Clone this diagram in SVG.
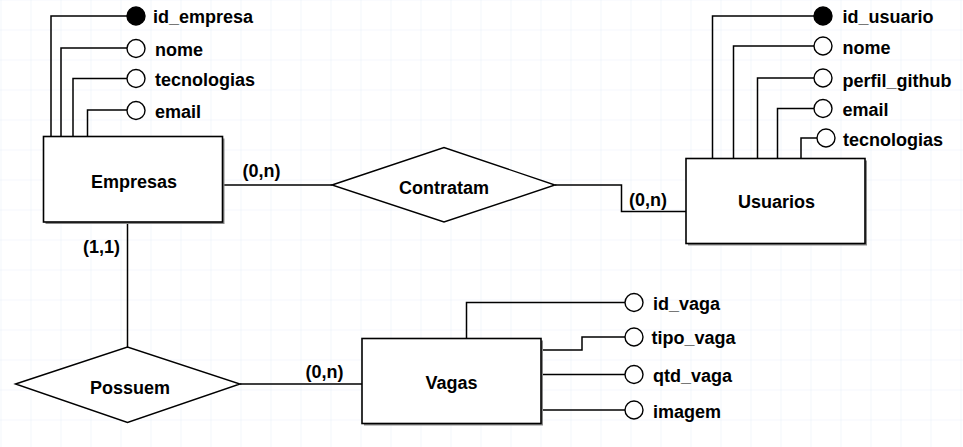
<svg xmlns="http://www.w3.org/2000/svg" width="963" height="447" viewBox="0 0 963 447">
<defs>
<pattern id="grid" x="0.5" y="-0.5" width="30" height="30" patternUnits="userSpaceOnUse">
<path d="M0 0 V30 M0 0 H30" fill="none" stroke="#e9f0f9" stroke-width="1.2"/>
</pattern>
</defs>
<style>
.ent{fill:#fff;stroke:#000;stroke-width:1.6}
.shd{fill:#8a8a8a}
.rel{fill:#fff;stroke:#000;stroke-width:1.4}
.ln{fill:none;stroke:#000;stroke-width:1.5}
.at{fill:#fff;stroke:#000;stroke-width:1.4}
.pk{fill:#000;stroke:#000;stroke-width:1.4}
text{font-family:"Liberation Sans",Arial,sans-serif;font-weight:bold;font-size:18px;fill:#000}
.c{text-anchor:middle}
</style>
<rect width="963" height="447" fill="#fff"/>
<rect width="963" height="447" fill="url(#grid)"/>

<g id="connectors">
<path class="ln" d="M51 137 V16 H128"/>
<path class="ln" d="M61 137 V48 H127"/>
<path class="ln" d="M73 137 V78.5 H127"/>
<path class="ln" d="M87.5 137 V110 H127"/>
<path class="ln" d="M712.5 158 V16 H814"/>
<path class="ln" d="M733.5 158 V46 H814"/>
<path class="ln" d="M757.5 158 V78 H814"/>
<path class="ln" d="M777.5 158 V108.5 H814"/>
<path class="ln" d="M801 158 V138 H817"/>
<path class="ln" d="M466.5 338 V302.5 H625"/>
<path class="ln" d="M541 350 H582 V337 H625"/>
<path class="ln" d="M541 374.5 H625"/>
<path class="ln" d="M541 410 H625"/>
<path class="ln" d="M223 185 H332"/>
<path class="ln" d="M555 185 H621.5 V211.5 H686"/>
<path class="ln" d="M127.5 222 V347"/>
<path class="ln" d="M240 384 H362"/>
</g>

<g id="empresas">
<rect class="shd" x="45.5" y="138.5" width="179" height="85.5"/>
<rect class="ent" x="43.5" y="136.5" width="179" height="85.5"/>
<text class="c" x="134" y="188">Empresas</text>
</g>
<g id="usuarios">
<rect class="shd" x="688" y="160.5" width="179" height="85"/>
<rect class="ent" x="686" y="158.5" width="179" height="85"/>
<text class="c" x="776.5" y="208">Usuarios</text>
</g>
<g id="vagas">
<rect class="shd" x="364" y="340.5" width="179" height="85"/>
<rect class="ent" x="362" y="338.5" width="179" height="85"/>
<text class="c" x="451.5" y="388.5">Vagas</text>
</g>

<g id="contratam">
<polygon class="rel" points="332,185 444,147.5 555,185 444,222"/>
<text class="c" x="444" y="193.5">Contratam</text>
</g>
<g id="possuem">
<polygon class="rel" points="15.5,384 127.5,347 240,384 127.5,422.5"/>
<text class="c" x="130" y="393.5">Possuem</text>
</g>

<g id="labels">
<text x="242.5" y="177">(0,n)</text>
<text x="629" y="206">(0,n)</text>
<text x="83" y="252.5">(1,1)</text>
<text x="305.5" y="377.5">(0,n)</text>
</g>

<g id="attr-empresas">
<circle class="pk" cx="136" cy="16" r="9"/><text x="153" y="23">id_empresa</text>
<circle class="at" cx="136" cy="48.5" r="9"/><text x="155" y="56">nome</text>
<circle class="at" cx="136" cy="78.5" r="9"/><text x="155" y="86">tecnologias</text>
<circle class="at" cx="136" cy="110.5" r="9"/><text x="155" y="118">email</text>
</g>
<g id="attr-usuarios">
<circle class="pk" cx="823" cy="16" r="9"/><text x="842.5" y="23">id_usuario</text>
<circle class="at" cx="823" cy="46" r="9"/><text x="842.5" y="53.5">nome</text>
<circle class="at" cx="823" cy="78" r="9"/><text x="842.5" y="86.5">perfil_github</text>
<circle class="at" cx="823" cy="108.5" r="9"/><text x="842.5" y="115.5">email</text>
<circle class="at" cx="826" cy="138" r="9"/><text x="843" y="145.5">tecnologias</text>
</g>
<g id="attr-vagas">
<circle class="at" cx="634" cy="302.5" r="9"/><text x="653" y="309.5">id_vaga</text>
<circle class="at" cx="634" cy="337" r="9"/><text x="651.5" y="343.5">tipo_vaga</text>
<circle class="at" cx="634" cy="374.5" r="9"/><text x="653" y="381.5">qtd_vaga</text>
<circle class="at" cx="634" cy="410" r="9"/><text x="653" y="417.5">imagem</text>
</g>
</svg>
